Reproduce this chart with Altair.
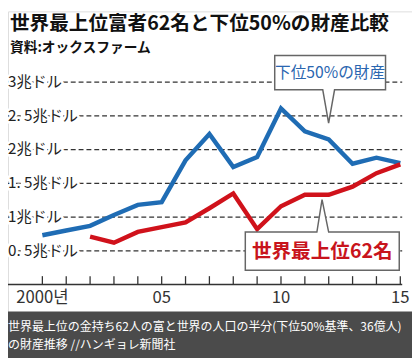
import altair as alt
import pandas as pd

# ---- data (trillion US$) ----
years = list(range(2000, 2016))
bottom50 = [0.73, 0.80, 0.87, 1.03, 1.18, 1.22, 1.84, 2.23, 1.74, 1.89, 2.61, 2.27, 2.15, 1.79, 1.88, 1.80]
top62_years = list(range(2002, 2016))
top62 = [0.71, 0.62, 0.78, 0.85, 0.92, 1.13, 1.35, 0.82, 1.16, 1.33, 1.33, 1.45, 1.65, 1.78]

grid_values = [0.5, 1, 1.5, 2, 2.5, 3]
grid_labels = ["0. 5兆ドル", "1兆ドル", "1. 5兆ドル", "2兆ドル", "2. 5兆ドル", "3兆ドル"]
xlabel_years = [2000, 2005, 2010, 2015]
xlabel_texts = ["2000년", "05", "10", "15"]

title = "世界最上位富者62名と下位50%の財産比較"
subtitle = "資料:オックスファーム"
blue_label = "下位50%の財産"
red_label = "世界最上位62名"
caption = ["世界最上位の金持ち62人の富と世界の人口の半分(下位50%基準、36億人)",
           "の財産推移 //ハンギョレ新聞社"]

FONT = "Noto Sans CJK JP"
BLUE = "#1f6cb4"
RED = "#d0121b"

W, H = 412, 350
xs = alt.Scale(domain=[1998.56, 2015.49], nice=False, zero=False)
ys = alt.Scale(domain=[-1.039, 4.048], nice=False, zero=False)

blue_df = pd.DataFrame({"year": years, "v": bottom50})
red_df = pd.DataFrame({"year": top62_years, "v": top62})
grid_df = pd.DataFrame({"v": grid_values, "label": grid_labels})
tick_df = pd.DataFrame({"year": years, "base": [0] * len(years)})
xlab_df = pd.DataFrame({"year": xlabel_years, "label": xlabel_texts})
one = pd.DataFrame({"a": [0]})
cap_df = pd.DataFrame({"line": [0, 1], "text": caption})

X = lambda f="year": alt.X(f"{f}:Q", scale=xs, axis=None)
Y = lambda f="v": alt.Y(f"{f}:Q", scale=ys, axis=None)

band = alt.Chart(one).mark_rect(color="#4b4b4b").encode(
    x=alt.value(-8), x2=alt.value(W + 8), y=alt.value(306), y2=alt.value(H + 8))

grid = alt.Chart(grid_df).mark_rule(color="#333333", strokeWidth=1.3, strokeDash=[5, 3]).encode(
    x=alt.value(0), x2=alt.value(402), y=Y())

halo = alt.Chart(grid_df).mark_text(align="left", baseline="middle", font=FONT, fontSize=15.5,
                                    fill="white", stroke="white", strokeWidth=5).encode(
    x=alt.value(0), y=Y(), text="label:N")
ylabels = alt.Chart(grid_df).mark_text(align="left", baseline="middle", font=FONT, fontSize=15.5,
                                       color="#222222").encode(
    x=alt.value(0), y=Y(), text="label:N")

axis_line = alt.Chart(tick_df.head(1)).mark_rule(color="#333333", strokeWidth=1.5).encode(
    x=alt.value(0), x2=alt.value(402), y=Y("base"))
ticks = alt.Chart(tick_df).mark_rule(color="#333333", strokeWidth=1.3).encode(
    x=X(), y=Y("base"), y2=alt.value(270))
xlabels = alt.Chart(xlab_df).mark_text(baseline="middle", font=FONT, fontSize=17, color="#333333").encode(
    x=X(), y=alt.value(292), text="label:N")

blue_line = alt.Chart(blue_df).mark_line(color=BLUE, strokeWidth=4.5).encode(x=X(), y=Y())
red_line = alt.Chart(red_df).mark_line(color=RED, strokeWidth=4.5).encode(x=X(), y=Y())

blue_path = "M-1,-0.31 L1,-0.31 L1,0.31 L0.08,0.31 L-0.027,0.912 L-0.133,0.31 L-1,0.31 Z"
red_path = "M-1,-0.248 L-0.07,-0.248 L-0.003,-0.669 L0.083,-0.248 L1,-0.248 L1,0.248 L-1,0.248 Z"

blue_box = alt.Chart(one).mark_point(shape=blue_path, filled=True, fill="white", stroke="#666666",
                                     strokeWidth=1.5, opacity=1, size=113 * 113).encode(
    x=alt.value(328.5), y=alt.value(62.5))
red_box = alt.Chart(one).mark_point(shape=red_path, filled=True, fill="white", stroke="#666666",
                                    strokeWidth=1.5, opacity=1, size=157 * 157).encode(
    x=alt.value(320.5), y=alt.value(244.5))
blue_text = alt.Chart(one).mark_text(text=blue_label, font=FONT, fontSize=16, color="#2a66b0",
                                     baseline="middle").encode(x=alt.value(328.5), y=alt.value(63))
red_text = alt.Chart(one).mark_text(text=red_label, font=FONT, fontSize=20, fontWeight="bold",
                                    color="#c8141c", baseline="middle").encode(
    x=alt.value(320.5), y=alt.value(245.5))

title_t = alt.Chart(one).mark_text(text=title, font=FONT, fontSize=20, fontWeight="bold",
                                   color="#111111", align="left", baseline="middle").encode(
    x=alt.value(2), y=alt.value(13))
sub_t = alt.Chart(one).mark_text(text=subtitle, font=FONT, fontSize=14, fontWeight="bold",
                                 color="#111111", align="left", baseline="middle").encode(
    x=alt.value(2), y=alt.value(37))
cap_t = alt.Chart(cap_df).mark_text(font=FONT, fontSize=12.2, color="white", align="left",
                                    baseline="middle").encode(
    x=alt.value(0),
    y=alt.Y("line:Q", scale=alt.Scale(domain=[0, 1], range=[322, 340]), axis=None),
    text="text:N")

chart = alt.layer(
    band, grid, halo, ylabels, axis_line, ticks, xlabels, blue_line, red_line,
    blue_box, red_box, blue_text, red_text, title_t, sub_t, cap_t
).resolve_scale(y="independent").properties(
    width=W, height=H, autosize=alt.AutoSizeParams(type="none"), padding=0
).configure_view(stroke=None).configure(background="white")

chart.save("out.html", embed_options={"renderer": "svg", "actions": False})
